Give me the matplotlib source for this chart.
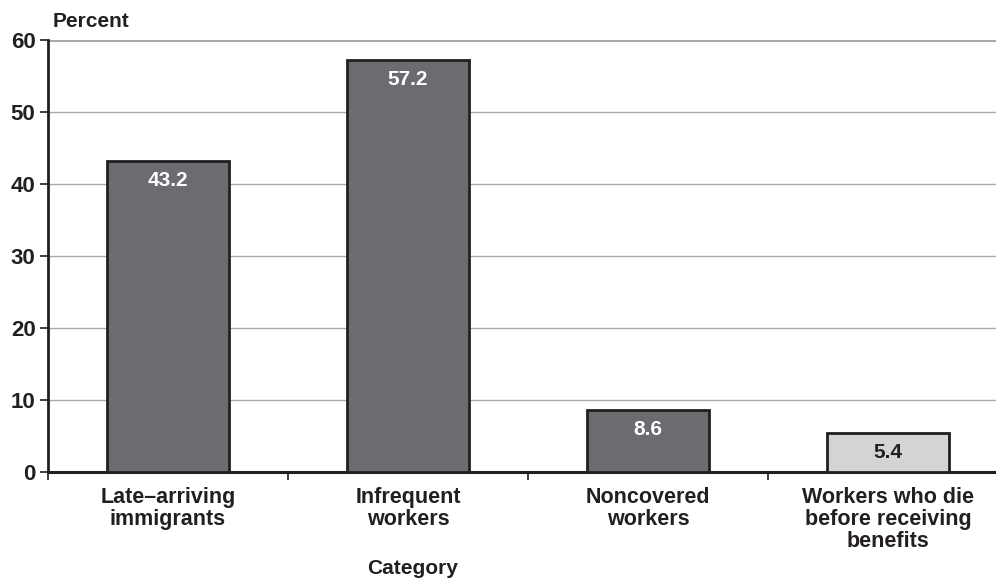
import matplotlib
matplotlib.use("Agg")
import matplotlib.pyplot as plt
import numpy as np

plt.rcParams["font.family"] = ["Liberation Sans", "DejaVu Sans"]
plt.rcParams["font.weight"] = "bold"

categories = [
    "Late\u2013arriving\nimmigrants",
    "Infrequent\nworkers",
    "Noncovered\nworkers",
    "Workers who die\nbefore receiving\nbenefits",
]
values = [43.2, 57.2, 8.6, 5.4]
bar_colors = ["#6b6c70", "#6b6c70", "#6b6c70", "#d3d4d6"]
label_colors = ["white", "white", "white", "#231f20"]
y_ticks = [0, 10, 20, 30, 40, 50, 60]

fig = plt.figure(figsize=(9.96, 5.84), dpi=100)
ax = fig.add_axes([0.0482, 0.1918, 0.9518, 0.7397])

x = np.arange(len(categories))
ax.bar(x, values, width=0.505, color=bar_colors, edgecolor="#231f20",
       linewidth=2, zorder=3)

for xi, v, c in zip(x, values, label_colors):
    ax.annotate(f"{v}", (xi, v), xytext=(0, -14), textcoords="offset points",
                ha="center", va="center", color=c, fontsize=15,
                fontweight="bold", zorder=4)

ax.set_xlim(-0.5, 3.45)
ax.set_ylim(0, 60)

# gridlines
for t in y_ticks[1:-1]:
    ax.axhline(t, color="#a7a9ac", linewidth=1, zorder=1)
ax.axhline(60, color="#a7a9ac", linewidth=2.2, zorder=1)

ax.set_yticks(y_ticks)
ax.tick_params(axis="y", length=6, width=1.2, direction="out", pad=3,
               labelsize=16, colors="#231f20")

# category boundaries as major ticks, labels on minor ticks
ax.set_xticks(np.arange(-0.5, 3.5, 1.0))
ax.set_xticklabels([])
ax.tick_params(axis="x", which="major", length=6, width=1.2,
               direction="out", color="#231f20")
ax.set_xticks(x, minor=True)
ax.set_xticklabels(categories, minor=True, fontsize=15.5, fontweight="bold",
                   color="#231f20", linespacing=1.06)
ax.tick_params(axis="x", which="minor", length=0, pad=11)

for s in ["top", "right"]:
    ax.spines[s].set_visible(False)
ax.spines["left"].set_linewidth(2)
ax.spines["left"].set_color("#231f20")
ax.spines["bottom"].set_linewidth(2.2)
ax.spines["bottom"].set_color("#231f20")

fig.text(0.053, 0.963, "Percent", ha="left", va="center", fontsize=15,
         fontweight="bold", color="#231f20")
fig.text(0.4147, 0.027, "Category", ha="center", va="center", fontsize=15,
         fontweight="bold", color="#231f20")

fig.savefig("out.png", dpi=100)
